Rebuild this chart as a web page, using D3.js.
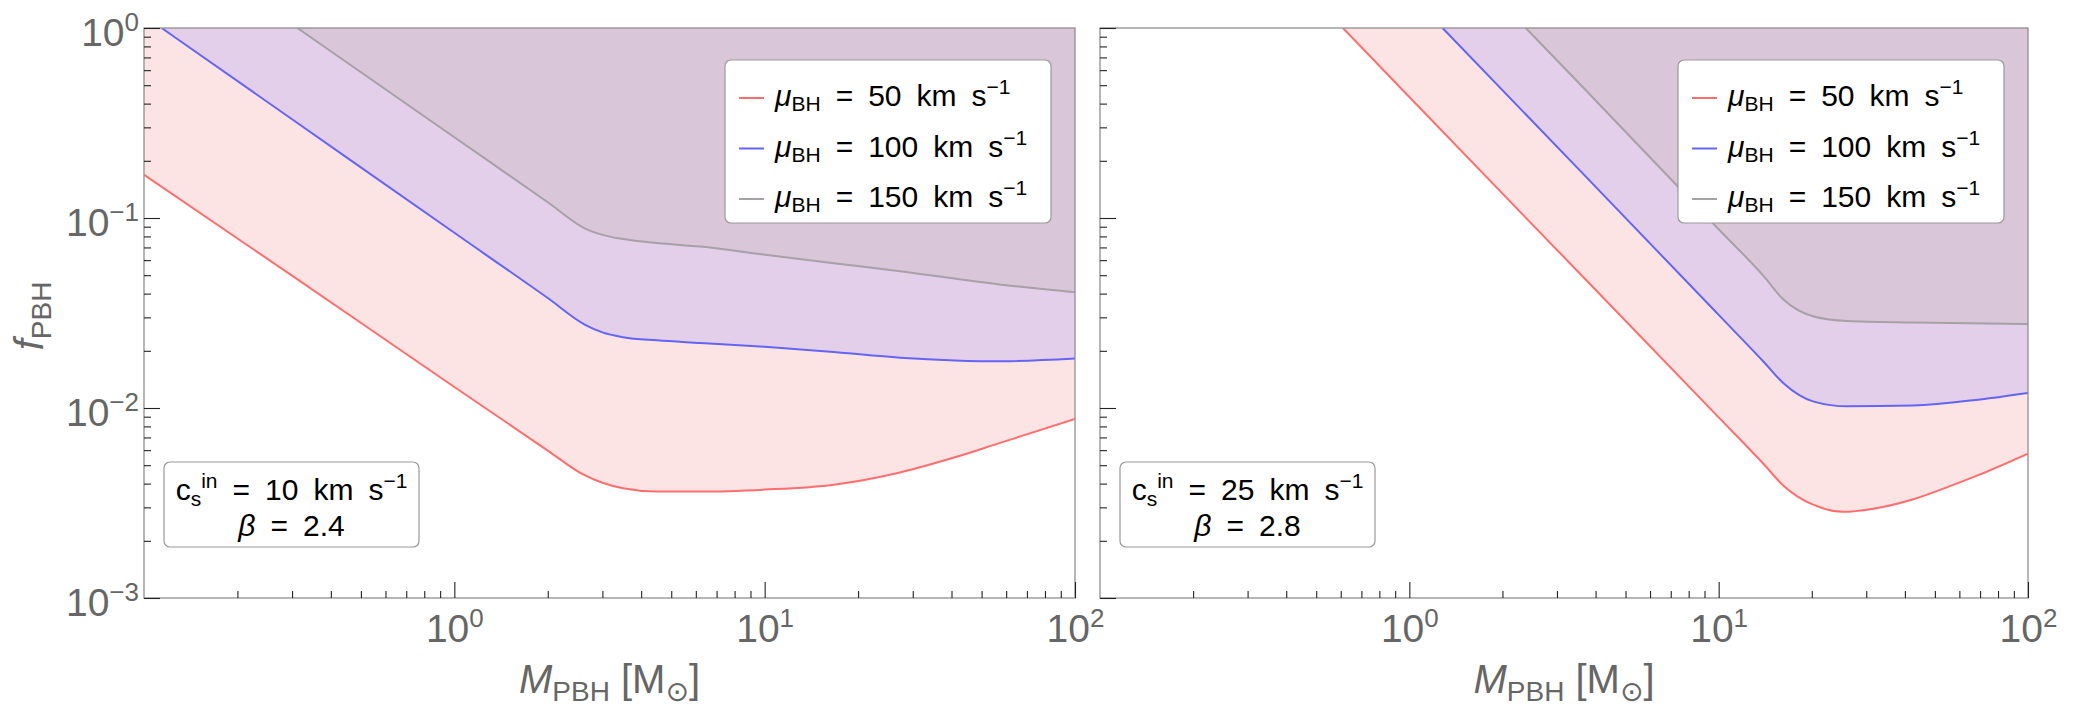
<!DOCTYPE html>
<meta charset="utf-8">
<style>
  body { margin: 0; background: #fff; }
  svg text { font-family: "Liberation Sans", Arial, "DejaVu Sans", sans-serif; }
</style>
<body>
<script src="https://cdn.jsdelivr.net/npm/d3@7"></script>
<script>
  // ticks
  var massTicks = [1, 10, 100];
  var massExps = ["0", "1", "2"];
  var fracTicks = [1, 0.1, 0.01, 0.001];
  var fracExps = ["0", "\u22121", "\u22122", "\u22123"];
  var velocities = [50, 100, 150];

  // left panel: cs_in = 10 km/s, beta = 2.4
  var massL50 = [0.1, 0.3, 1, 2, 2.6, 3, 3.5, 4.5, 6.2, 10, 16.7, 27.3, 41, 57, 100];
  var fracL50 = [0.169, 0.0497, 0.0129, 0.00597, 0.00447, 0.00404, 0.00378, 0.00363, 0.00363, 0.00372, 0.00395, 0.00458, 0.0055, 0.00653, 0.00875];
  var massL100 = [0.114, 0.3, 1, 2, 2.64, 3, 3.5, 4.5, 6.2, 10, 16.7, 27.3, 41, 57, 100];
  var fracL100 = [1, 0.331, 0.0836, 0.0379, 0.0274, 0.025, 0.0236, 0.0227, 0.022, 0.021, 0.0197, 0.0184, 0.0178, 0.0176, 0.0182];
  var massL150 = [0.312, 1, 2, 2.64, 3, 3.5, 4.5, 6.2, 10, 16.7, 27.3, 57, 100];
  var fracL150 = [1, 0.266, 0.121, 0.088, 0.0815, 0.0775, 0.0738, 0.0707, 0.0641, 0.0578, 0.0525, 0.0447, 0.0407];

  // right panel: cs_in = 25 km/s, beta = 2.8
  var massR50 = [0.61, 1, 3.57, 10, 14, 16.2, 17.9, 20.3, 25.3, 31.6, 42.6, 56.2, 70, 100];
  var fracR50 = [1, 0.433, 0.0507, 0.00893, 0.00506, 0.0039, 0.00344, 0.00309, 0.00284, 0.00295, 0.00331, 0.00389, 0.00447, 0.00575];
  var massR100 = [1.28, 3.57, 10, 14, 16.2, 20.3, 26, 42.6, 70, 100];
  var fracR100 = [1, 0.177, 0.0309, 0.01746, 0.0135, 0.0108, 0.0102, 0.0103, 0.0111, 0.012];
  var massR150 = [2.38, 3.57, 10, 14, 16.2, 20.3, 26, 42.6, 100];
  var fracR150 = [1, 0.504, 0.0873, 0.0493, 0.0372, 0.0303, 0.0287, 0.0282, 0.0277];

  var lineColors = ["#ff6e6e", "#6464f5", "#a7a0a7"];
  var fillColors = ["#fde4e4", "#e4cfeb", "#dac6d9"];

  var plotTop = 28, plotBottom = 598;
  var panels = [
    { x0: 144, x1: 1075, yLabels: true, cs: "10", beta: "2.4",
      series: [[massL50, fracL50], [massL100, fracL100], [massL150, fracL150]] },
    { x0: 1100, x1: 2028, yLabels: false, cs: "25", beta: "2.8",
      series: [[massR50, fracR50], [massR100, fracR100], [massR150, fracR150]] }
  ];

  var svg = d3.select("body").append("svg")
    .attr("width", 2081)
    .attr("height", 707);

  function isDecade(v) {
    var l = Math.log10(v);
    return Math.abs(l - Math.round(l)) < 1e-6;
  }

  function styleAxis(ax) {
    ax.attr("font-family", null).attr("font-size", 39);
    ax.select(".domain").remove();
    ax.selectAll(".tick line").attr("stroke", "#222").attr("stroke-width", 1.1);
    ax.selectAll(".tick text").attr("fill", "#666");
  }

  // "10" + superscript exponent
  function powerLabels(ax, exps) {
    ax.selectAll(".tick text").each(function (d, i) {
      var t = d3.select(this);
      if (!t.text()) return;
      t.text("");
      t.append("tspan").text("10");
      t.append("tspan").attr("font-size", 26).attr("dy", -15).text(exps[i]);
    });
  }

  panels.forEach(function (p, i) {
    var x = d3.scaleLog().domain([0.1, 100]).range([p.x0, p.x1]);
    var y = d3.scaleLog().domain([0.001, 1]).range([plotBottom, plotTop]);
    var g = svg.append("g");

    g.append("clipPath").attr("id", "clip" + i)
      .append("rect")
      .attr("x", p.x0).attr("y", plotTop)
      .attr("width", p.x1 - p.x0).attr("height", plotBottom - plotTop);

    var area = d3.area()
      .x(function (d) { return x(d[0]); })
      .y0(y(1))
      .y1(function (d) { return y(d[1]); })
      .curve(d3.curveMonotoneX);
    var line = d3.line()
      .x(function (d) { return x(d[0]); })
      .y(function (d) { return y(d[1]); })
      .curve(d3.curveMonotoneX);

    // filled regions above each curve
    p.series.forEach(function (s, k) {
      g.append("path")
        .attr("d", area(d3.zip(s[0], s[1])))
        .attr("fill", fillColors[k])
        .attr("clip-path", "url(#clip" + i + ")");
    });
    p.series.forEach(function (s, k) {
      g.append("path")
        .attr("d", line(d3.zip(s[0], s[1])))
        .attr("fill", "none")
        .attr("stroke", lineColors[k])
        .attr("stroke-width", 2)
        .attr("clip-path", "url(#clip" + i + ")");
    });

    // frame
    g.append("rect")
      .attr("x", p.x0).attr("y", plotTop)
      .attr("width", p.x1 - p.x0).attr("height", plotBottom - plotTop)
      .attr("fill", "none")
      .attr("stroke", "#8f8f8f")
      .attr("stroke-width", 1.3);

    // y axis (ticks inward)
    var yMinor = y.ticks().filter(function (v) { return !isDecade(v); });
    var yMin = g.append("g").attr("transform", "translate(" + p.x0 + ",0)")
      .call(d3.axisLeft(y).tickValues(yMinor).tickSize(-7).tickFormat(""));
    styleAxis(yMin);
    var yMaj = g.append("g").attr("transform", "translate(" + p.x0 + ",0)")
      .call(d3.axisLeft(y).tickValues(fracTicks).tickSize(-16).tickPadding(5)
        .tickFormat(function () { return p.yLabels ? "10" : ""; }));
    styleAxis(yMaj);
    yMaj.selectAll(".tick text").attr("dy", "0.45em");
    powerLabels(yMaj, fracExps);

    // x axis
    var xMinor = x.ticks().filter(function (v) { return !isDecade(v); });
    var xMin = g.append("g").attr("transform", "translate(0," + plotBottom + ")")
      .call(d3.axisBottom(x).tickValues(xMinor).tickSize(-7).tickFormat(""));
    styleAxis(xMin);
    var xMaj = g.append("g").attr("transform", "translate(0," + plotBottom + ")")
      .call(d3.axisBottom(x).tickValues(massTicks).tickSize(-16).tickPadding(16)
        .tickFormat(function () { return "10"; }));
    styleAxis(xMaj);
    powerLabels(xMaj, massExps);

    // x label
    var xl = g.append("text")
      .attr("x", (p.x0 + p.x1) / 2).attr("y", 693)
      .attr("text-anchor", "middle").attr("fill", "#666").attr("font-size", 40);
    xl.append("tspan").attr("font-style", "italic").text("M");
    xl.append("tspan").attr("font-size", 28).attr("dy", 8).text("PBH");
    xl.append("tspan").attr("dy", -8).text("\u00a0[M");
    xl.append("tspan").attr("font-size", 28).attr("dy", 8).attr("font-family", "DejaVu Sans").text("\u2299");
    xl.append("tspan").attr("dy", -8).text("]");

    // legend
    var lx = p.x1 - 24 - 326, ly = plotTop + 32;
    var leg = g.append("g");
    leg.append("rect")
      .attr("x", lx).attr("y", ly).attr("width", 326).attr("height", 163)
      .attr("rx", 6).attr("fill", "#fff").attr("stroke", "#999").attr("stroke-width", 1.2);
    velocities.forEach(function (v, k) {
      var ry = ly + 38 + k * 50.5;
      leg.append("line")
        .attr("x1", lx + 14).attr("x2", lx + 39).attr("y1", ry).attr("y2", ry)
        .attr("stroke", lineColors[k]).attr("stroke-width", 2);
      var t = leg.append("text").attr("x", lx + 50).attr("y", ry + 8)
        .attr("font-size", 30).attr("fill", "#000");
      t.append("tspan").attr("font-style", "italic").text("\u03bc");
      t.append("tspan").attr("font-size", 21).attr("dy", 5).text("BH");
      t.append("tspan").attr("dy", -5).text("\u2002=\u2002" + v + "\u2002km\u2002s");
      t.append("tspan").attr("font-size", 21).attr("dy", -12).text("\u22121");
    });

    // parameter box
    var bx = p.x0 + 20, by = plotBottom - 51 - 85;
    var box = g.append("g");
    box.append("rect")
      .attr("x", bx).attr("y", by).attr("width", 255).attr("height", 85)
      .attr("rx", 6).attr("fill", "#fff").attr("stroke", "#999").attr("stroke-width", 1.2);
    var t1 = box.append("text").attr("x", bx + 127.5).attr("y", by + 38)
      .attr("text-anchor", "middle").attr("font-size", 30).attr("fill", "#000");
    t1.append("tspan").text("c");
    t1.append("tspan").attr("font-size", 21).attr("dy", 6).text("s");
    t1.append("tspan").attr("font-size", 21).attr("dy", -18).text("in");
    t1.append("tspan").attr("dy", 12).text("\u2002=\u2002" + p.cs + "\u2002km\u2002s");
    t1.append("tspan").attr("font-size", 21).attr("dy", -12).text("\u22121");
    var t2 = box.append("text").attr("x", bx + 127.5).attr("y", by + 74)
      .attr("text-anchor", "middle").attr("font-size", 30).attr("fill", "#000");
    t2.append("tspan").attr("font-style", "italic").text("\u03b2");
    t2.append("tspan").text("\u2002=\u2002" + p.beta);
  });

  // y label
  var yl = svg.append("text")
    .attr("transform", "translate(43,316) rotate(-90)")
    .attr("text-anchor", "middle").attr("fill", "#666").attr("font-size", 40);
  yl.append("tspan").attr("font-style", "italic").text("f");
  yl.append("tspan").attr("font-size", 28).attr("dy", 8).text("PBH");
</script>
</body>
